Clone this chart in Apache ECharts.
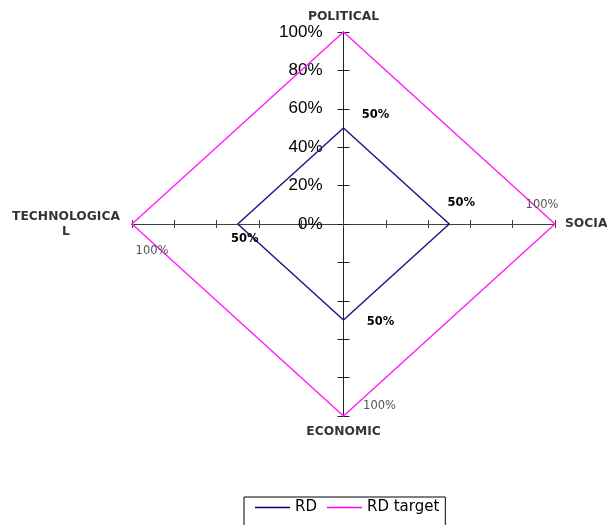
<!DOCTYPE html>
<html><head><meta charset="utf-8">
<script src="https://cdn.jsdelivr.net/npm/echarts@6/dist/echarts.min.js"></script>
<style>html,body{margin:0;padding:0;background:#fff}#chart{width:607px;height:525px}</style>
</head><body><div id="chart"></div>
<script>
// PEST profile: four spokes, current RD level against RD target
const categories = ['POLITICAL', 'SOCIAL', 'ECONOMIC', 'TECHNOLOGICAL'];
const categoryLabels = ['POLITICAL', 'SOCIAL', 'ECONOMIC', 'TECHNOLOGICA\nL'];
const rdValues = [50, 50, 50, 50];
const targetValues = [100, 100, 100, 100];
const seriesNames = ['RD', 'RD target'];
const scaleTicks = [0, 20, 40, 60, 80, 100];
const scaleMax = 100;

// direction of each spoke in the plane: up, right, down, left
const spokes = [[0, 1], [1, 0], [0, -1], [-1, 0]];

const toXY = (v, i) => [spokes[i][0] * v, spokes[i][1] * v];

// label placement around each spoke end (px offsets from the point)
const rdLabelOffsets = [[32, -13], [12, -21], [37, 2], [7, 15]];
const targetLabelOffsets = [null, [-13, -19], [36, -10], [20, 27]];
const nameOffsets = [[0, -15], [10, 0], [0, 16], [-66, 0]];

function ring(values, offsets, labelStyle) {
  const pts = values.map((v, i) => {
    const o = offsets[i];
    return {
      value: toXY(v, i),
      label: o ? { show: true, offset: o, ...labelStyle } : { show: false }
    };
  });
  pts.push({ value: toXY(values[0], 0), label: { show: false } });
  return pts;
}

const FONT = 'Arial, "Liberation Sans", sans-serif';
const DV = '"DejaVu Sans", sans-serif';
const axisColor = '#404040';

const GRID = { left: 132, right: 52, top: 32, bottom: 109 };
// the vertical axis runs through the middle of the plot
const midShift = (607 - GRID.left - GRID.right) / 2;

const chart = echarts.init(document.getElementById('chart'), null, { renderer: 'canvas' });

const baseX = {
  type: 'value', min: -scaleMax, max: scaleMax, interval: 20,
  splitLine: { show: false }, axisLabel: { show: false },
  axisLine: { show: true, onZero: true, lineStyle: { color: axisColor, width: 1 } }
};
const baseY = {
  type: 'value', min: -scaleMax, max: scaleMax, interval: 20,
  splitLine: { show: false },
  axisLine: { show: true, onZero: false, lineStyle: { color: '#222', width: 1 } }
};

chart.setOption({
  backgroundColor: '#ffffff',
  animation: false,
  grid: { ...GRID, containLabel: false },
  xAxis: [
    { ...baseX, position: 'bottom', axisTick: { show: true, inside: false, length: 4, lineStyle: { color: axisColor } } },
    { ...baseX, position: 'top', axisTick: { show: true, inside: false, length: 4, lineStyle: { color: axisColor } } }
  ],
  yAxis: [
    {
      ...baseY, position: 'left', offset: -midShift,
      axisTick: { show: true, inside: false, length: 6, lineStyle: { color: '#222' } },
      axisLabel: {
        show: true, margin: 21, color: '#000', fontFamily: FONT, fontSize: 17,
        formatter: v => scaleTicks.includes(v) ? v + '%' : ''
      }
    },
    {
      ...baseY, position: 'right', offset: -midShift,
      axisTick: { show: true, inside: false, length: 6, lineStyle: { color: '#222' } },
      axisLabel: { show: false }
    }
  ],
  legend: {
    left: 244, top: 497,
    data: seriesNames,
    icon: 'rect', itemWidth: 35, itemHeight: 1.5, itemGap: 10,
    borderColor: '#000', borderWidth: 1, padding: [3, 6, 20, 11],
    textStyle: { fontFamily: DV, fontSize: 15, color: '#000' }
  },
  series: [
    {
      name: seriesNames[0], type: 'line', xAxisIndex: 0, yAxisIndex: 0,
      data: ring(rdValues, rdLabelOffsets, {
        position: 'inside', fontFamily: DV, fontWeight: 'bold', fontSize: 11.5, color: '#000',
        formatter: p => rdValues[p.dataIndex % 4] + '%'
      }),
      symbol: 'circle', symbolSize: 1, showSymbol: true,
      itemStyle: { color: '#000080' },
      lineStyle: { color: '#1a1a88', width: 1.5 },
      z: 3
    },
    {
      name: seriesNames[1], type: 'line', xAxisIndex: 0, yAxisIndex: 0,
      data: ring(targetValues, targetLabelOffsets, {
        position: 'inside', fontFamily: DV, fontSize: 11.5, color: '#555',
        formatter: p => targetValues[p.dataIndex % 4] + '%'
      }),
      symbol: 'circle', symbolSize: 1, showSymbol: true,
      itemStyle: { color: '#ff00ff' },
      lineStyle: { color: '#ff22ff', width: 1.5 },
      z: 3
    },
    {
      // spoke names at the outer end of each axis
      type: 'scatter', xAxisIndex: 0, yAxisIndex: 0, silent: true, clip: false,
      symbolSize: 1, itemStyle: { color: 'rgba(0,0,0,0)' },
      data: categories.map((c, i) => ({
        value: toXY(scaleMax, i),
        label: {
          show: true, position: 'inside', offset: nameOffsets[i],
          align: i === 1 ? 'left' : 'center',
          formatter: categoryLabels[i],
          fontFamily: DV, fontWeight: 'bold', fontSize: 12.3,
          color: '#000', lineHeight: 15
        }
      })),
      z: 4
    }
  ]
});
</script>
</body></html>
